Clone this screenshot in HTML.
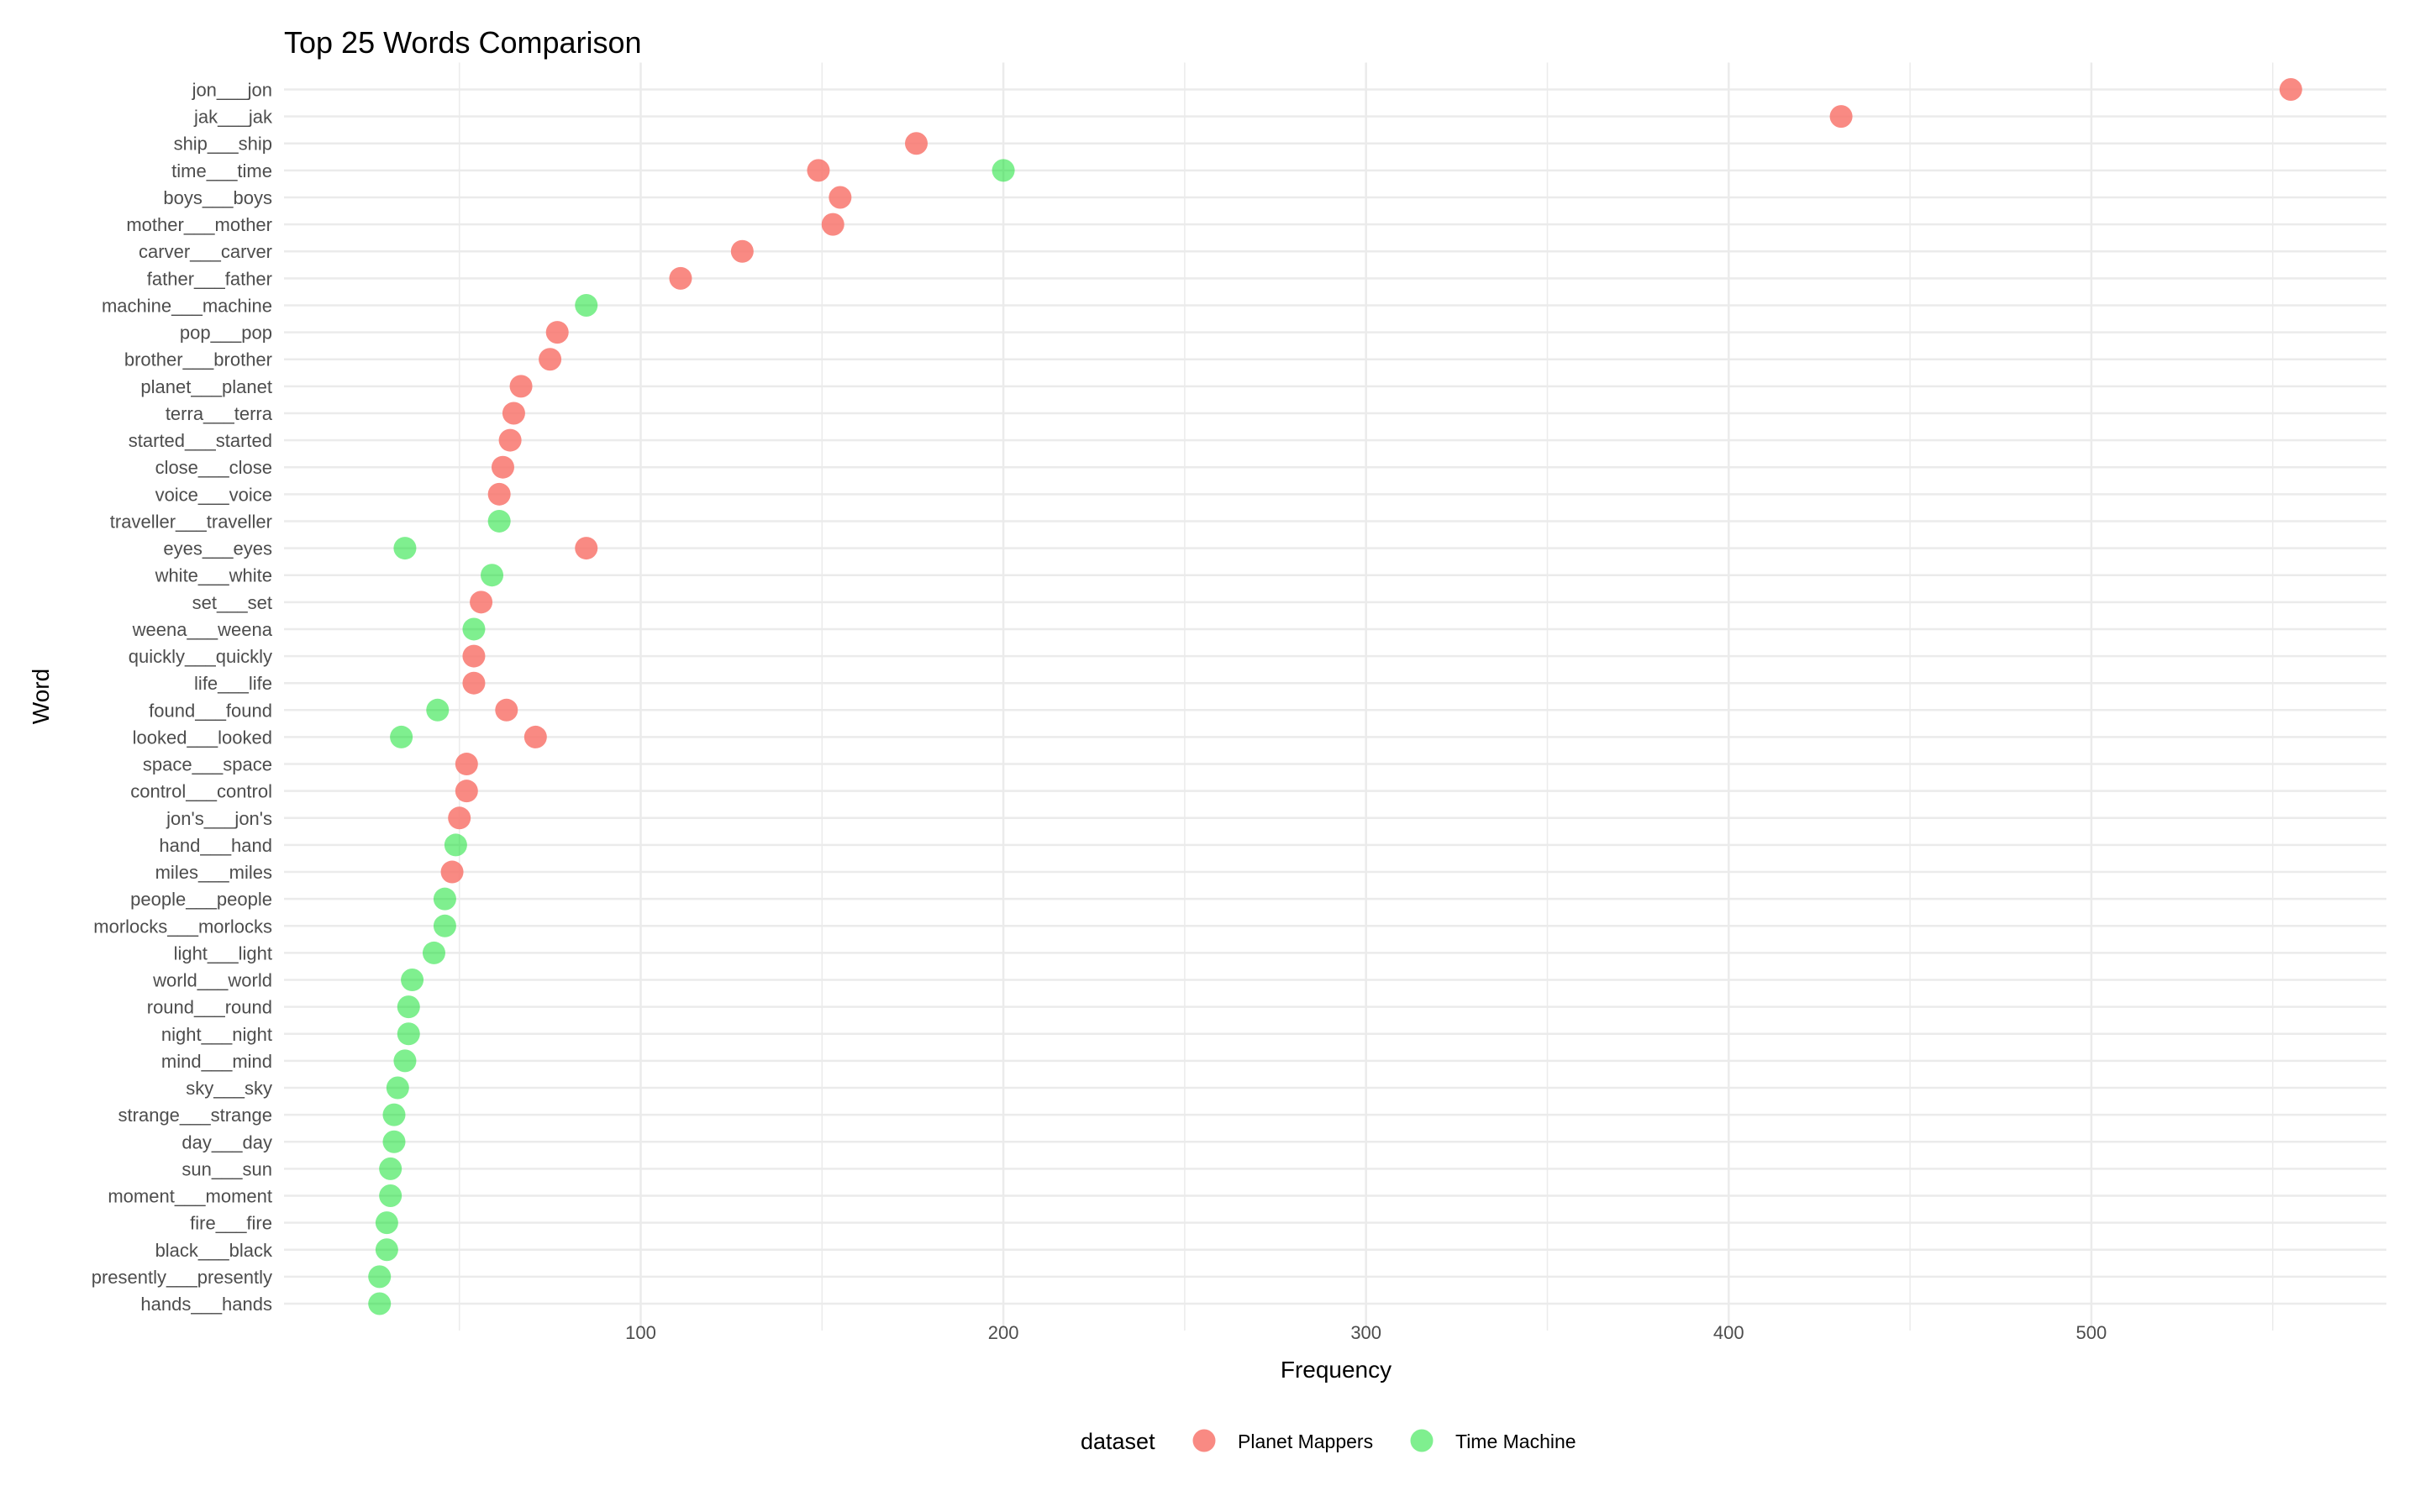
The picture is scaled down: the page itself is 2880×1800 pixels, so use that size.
<!DOCTYPE html>
<html><head><meta charset="utf-8"><style>
html,body{margin:0;padding:0;background:#fff;}
svg{display:block;font-family:"Liberation Sans",Arial,sans-serif;}
</style></head><body>
<svg id="chart" width="2880" height="1800" viewBox="0 0 2880 1800">
<text x="338" y="63" font-size="36" fill="#000">Top 25 Words Comparison</text>
<g id="grid"></g><g id="ylabels"></g><g id="xlabels"></g><g id="points"></g>
<text x="1590" y="1640" font-size="28" fill="#000" text-anchor="middle">Frequency</text>
<text x="0" y="0" font-size="28" fill="#000" text-anchor="middle" transform="translate(58,829) rotate(-90)">Word</text>
<g>
<text x="1286" y="1725" font-size="27" fill="#000">dataset</text>
<g>
<circle cx="1433" cy="1715" r="13.5" fill="#F8766D" fill-opacity="0.85"/>
<text x="1473" y="1724" font-size="23" fill="#000">Planet Mappers</text></g>
<g>
<circle cx="1692" cy="1715" r="13.5" fill="#00E020" fill-opacity="0.5"/>
<text x="1732" y="1724" font-size="23" fill="#000">Time Machine</text></g>
</g>
</svg>
<script>
const words=["jon___jon","jak___jak","ship___ship","time___time","boys___boys","mother___mother","carver___carver","father___father","machine___machine","pop___pop","brother___brother","planet___planet","terra___terra","started___started","close___close","voice___voice","traveller___traveller","eyes___eyes","white___white","set___set","weena___weena","quickly___quickly","life___life","found___found","looked___looked","space___space","control___control","jon's___jon's","hand___hand","miles___miles","people___people","morlocks___morlocks","light___light","world___world","round___round","night___night","mind___mind","sky___sky","strange___strange","day___day","sun___sun","moment___moment","fire___fire","black___black","presently___presently","hands___hands"];
const planetMappers=[555,431,176,149,155,153,128,111,null,77,75,67,65,64,62,61,null,85,null,56,null,54,54,63,71,52,52,50,null,48,null,null,null,null,null,null,null,null,null,null,null,null,null,null,null,null];
const timeMachine=[null,null,null,200,null,null,null,null,85,null,null,null,null,null,null,null,61,35,59,null,54,null,null,44,34,null,null,null,49,null,46,46,43,37,36,36,35,33,32,32,31,31,30,30,28,28];
const xTicks=[100,200,300,400,500];
const xMinor=[50,150,250,350,450,550];
const NS="http://www.w3.org/2000/svg";
const L=338,R=2840,T=106.5,B=1552;
const allVals=planetMappers.concat(timeMachine).filter(v=>v!=null);
const mn=Math.min(...allVals),mx=Math.max(...allVals),ex=(mx-mn)*0.05;
const xs=v=>L+(v-(mn-ex))/((mx+ex)-(mn-ex))*(R-L);
const ys=i=>T+i*(B-T)/(words.length-1);
function mk(tag,attrs,parent){const e=document.createElementNS(NS,tag);for(const k in attrs)e.setAttribute(k,attrs[k]);document.getElementById(parent).appendChild(e);return e;}
const yTop=T-32,yBot=B+32;
xMinor.forEach(v=>{const l=mk('line',{x1:xs(v),x2:xs(v),y1:yTop,y2:yBot,stroke:'#ebebeb','stroke-width':1.5},'grid');

});
xTicks.forEach(v=>{const l=mk('line',{x1:xs(v),x2:xs(v),y1:yTop,y2:yBot,stroke:'#ebebeb','stroke-width':2.5},'grid');


const t=mk('text',{x:xs(v),y:1594,'font-size':22,fill:'#4d4d4d','text-anchor':'middle'},'xlabels');t.textContent=v;

});
words.forEach((w,i)=>{const l=mk('line',{x1:L,x2:R,y1:ys(i),y2:ys(i),stroke:'#ebebeb','stroke-width':2.5},'grid');


const t=mk('text',{x:324,y:ys(i)+8,'font-size':22,fill:'#4d4d4d','text-anchor':'end'},'ylabels');t.textContent=w;

});
planetMappers.forEach((v,i)=>{if(v==null)return;const c=mk('circle',{cx:xs(v),cy:ys(i),r:13.5,fill:'#F8766D','fill-opacity':0.85},'points');

});
timeMachine.forEach((v,i)=>{if(v==null)return;const c=mk('circle',{cx:xs(v),cy:ys(i),r:13.5,fill:'#00E020','fill-opacity':0.5},'points');

});
</script>
</body></html>
